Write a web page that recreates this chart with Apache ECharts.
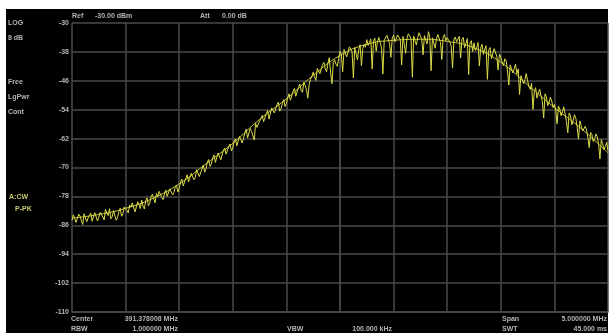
<!DOCTYPE html>
<html>
<head>
<meta charset="utf-8">
<script src="https://cdn.jsdelivr.net/npm/echarts@6/dist/echarts.min.js"></script>
<style>
html,body{margin:0;padding:0;background:#fff;}
#c{width:609px;height:333px;}
</style>
</head>
<body>
<div id="c"></div>
<script>
// Frequency span (offset from center, MHz)
const centerMHz = 391.378008;
const spanMHz = 5.0;
const refLevel = -30;   // dBm, top of screen
const dbPerDiv = 8;
const yTickLabels = [-110, -102, -94, -86, -78, -70, -62, -54, -46, -38, -30];

// Noisy measured trace (dBm), 401 sweep points across the span
const traceDb = [
  -84.6,-83.1, -83.2,-85.2, -84.9,-82.9, -83.5,-84.7, -85.8,-82.8, -83.1,-85.0, -84.0,-83.3, -82.6,-84.9, -84.4,-82.5, -83.0,-84.8,
  -83.8,-82.4, -82.1,-83.7, -84.5,-81.6, -82.7,-83.3, -81.4,-84.2, -83.6,-81.9, -82.0,-84.6, -83.9,-82.2, -81.3,-83.5, -82.8,-80.9,
  -80.5,-81.9, -82.6,-80.4, -81.0,-79.8, -79.6,-82.3, -81.8,-79.5, -80.2,-81.4, -79.0,-80.7, -81.5,-79.2, -78.4,-80.6, -79.9,-78.1,
  -77.4,-78.7, -79.8,-77.2, -78.0,-76.6, -76.5,-78.3, -78.9,-77.3, -76.2,-78.0, -77.8,-75.9, -75.4,-77.6, -77.0,-75.5, -74.9,-76.8,
  -75.8,-74.0, -73.2,-75.1, -74.6,-72.9, -72.0,-74.0, -73.9,-71.6, -71.5,-73.4, -72.8,-70.6, -70.2,-72.5, -72.0,-70.4, -69.3,-71.3,
  -70.4,-68.5, -67.8,-69.7, -69.1,-67.3, -66.5,-68.6, -68.2,-66.0, -65.9,-67.9, -67.4,-65.2, -64.6,-66.3, -66.0,-64.1, -63.5,-65.4,
  -64.5,-62.7, -62.1,-64.0, -63.8,-61.4, -61.0,-63.2, -62.9,-60.5, -59.4,-61.8, -61.6,-59.2, -60.0,-61.3, -62.4,-57.8, -58.9,-58.0,
  -57.9,-56.4, -55.6,-57.3, -57.0,-55.1, -54.2,-56.6, -56.1,-53.5, -53.0,-54.9, -55.3,-52.6, -51.9,-54.4, -53.8,-52.3, -51.2,-53.1,
  -52.3,-50.6, -49.6,-51.4, -51.0,-48.9, -48.1,-50.3, -50.4,-47.8, -46.9,-48.6, -49.2,-46.4, -47.3,-48.5, -50.8,-46.9, -45.6,-44.8,
  -43.6,-44.9, -45.9,-42.6, -42.8,-44.0, -44.2,-41.5, -40.9,-42.7, -43.5,-41.1, -39.6,-43.8, -46.8,-40.9, -40.2,-41.4, -42.0,-39.8,
  -37.8,-38.6, -43.5,-37.3, -37.0,-39.4, -38.9,-36.6, -36.2,-37.9, -45.2,-36.8, -36.5,-40.2, -37.4,-36.0, -41.8,-37.1, -35.9,-36.7,
  -34.6,-36.2, -35.8,-34.4, -42.7,-35.0, -34.2,-37.8, -35.1,-34.0, -33.8,-36.9, -44.1,-34.8, -34.5,-33.4, -33.6,-35.7, -39.5,-34.1,
  -33.4,-35.2, -34.9,-33.3, -32.8,-34.6, -41.6,-33.7, -33.5,-38.4, -34.2,-33.0, -32.6,-34.3, -45.0,-33.6, -33.1,-36.1, -34.0,-32.7,
  -32.9,-34.5, -38.8,-33.5, -33.7,-35.8, -32.4,-33.9, -43.2,-34.1, -33.6,-37.0, -34.4,-33.2, -32.7,-35.4, -40.1,-33.8, -33.2,-34.9,
  -34.1,-33.6, -35.3,-36.4, -42.5,-34.5, -33.9,-35.2, -34.8,-33.7, -39.7,-34.6, -34.0,-36.8, -35.6,-34.3, -44.3,-35.5, -34.9,-37.9,
  -35.5,-37.6, -36.8,-35.4, -41.9,-36.9, -35.9,-38.7, -37.2,-36.3, -45.6,-37.5, -36.8,-39.9, -38.5,-37.1, -37.4,-39.2, -43.0,-38.6,
  -39.6,-40.8, -41.8,-39.9, -40.5,-43.3, -47.2,-41.6, -41.9,-43.8, -42.6,-41.4, -44.1,-42.7, -49.8,-44.6, -44.3,-46.8, -45.7,-44.0,
  -46.0,-47.6, -48.4,-46.7, -53.9,-49.0, -47.9,-50.8, -49.5,-48.3, -50.1,-51.7, -56.3,-49.6, -50.4,-52.9, -52.0,-50.6, -51.6,-53.4,
  -52.5,-54.1, -57.9,-53.0, -53.8,-55.7, -54.6,-53.2, -55.2,-57.3, -60.4,-54.9, -55.6,-58.2, -57.0,-55.4, -56.4,-58.8, -62.1,-57.1,
  -58.4,-59.9, -60.0,-58.6, -59.6,-61.7, -64.5,-60.3, -60.9,-62.8, -62.0,-60.7, -61.5,-63.6, -67.6,-62.3, -63.4,-65.1, -64.2,-63.0,
  -65.4
];

// Smooth reference trace (dBm), 21 points across the span
const smoothDb = [
  -84.0, -83.0, -81.3, -78.6, -74.5, -69.0, -63.3, -56.7, -51.0, -44.5,
  -39.0, -35.9, -34.8, -34.5, -35.1, -36.9, -40.9, -47.1, -53.4, -59.2, -66.0
];

const leftTexts = ['LOG', '8 dB', 'Free', 'LgPwr', 'Cont'];
const markerTexts = ['A:CW', 'P-PK'];
const headerTexts = ['Ref', '-30.00 dBm', 'Att', '0.00 dB'];
const footerTexts = ['Center', '391.378008 MHz', 'RBW', '1.000000 MHz', 'VBW', '100.000 kHz', 'Span', '5.000000 MHz', 'SWT', '45.000 ms'];

const bottomLevel = refLevel - dbPerDiv * 10;
const half = spanMHz / 2;
function toPts(arr) {
  const step = spanMHz / (arr.length - 1);
  return arr.map((v, i) => [-half + i * step, v - bottomLevel]);
}

const FONT = '"Liberation Sans", Arial, sans-serif';
const txtCol = '#b4b4b4';
function t(x, y, s, align, color) {
  return { type: 'text', x: x, y: y, z: 10,
    style: { text: s, fill: color || txtCol, font: 'bold 7px ' + FONT, align: align || 'left', verticalAlign: 'middle' } };
}

const gridCol = '#4a4a4a';
const chart = echarts.init(document.getElementById('c'), null, { renderer: 'canvas' });
chart.setOption({
  backgroundColor: 'transparent',
  animation: false,
  graphic: [
    { type: 'rect', shape: { x: 6, y: 9, width: 602, height: 324 }, style: { fill: '#000' }, z: -10 },
    t(8, 23, leftTexts[0]), t(8, 38, leftTexts[1]),
    t(8, 82, leftTexts[2]), t(8, 97, leftTexts[3]), t(8, 112, leftTexts[4]),
    t(9, 197, markerTexts[0], 'left', '#c8c86e'), t(15, 209, markerTexts[1], 'left', '#c8c86e'),
    t(72, 16, headerTexts[0]), t(95, 16, headerTexts[1]),
    t(200, 16, headerTexts[2]), t(222, 16, headerTexts[3]),
    t(71, 319, footerTexts[0]), t(178, 319, footerTexts[1], 'right'),
    t(71, 329, footerTexts[2]), t(178, 329, footerTexts[3], 'right'),
    t(287, 329, footerTexts[4]), t(392, 329, footerTexts[5], 'right'),
    t(502, 319, footerTexts[6]), t(607, 319, footerTexts[7], 'right'),
    t(502, 329, footerTexts[8]), t(607, 329, footerTexts[9], 'right')
  ],
  grid: { left: 72, top: 23, right: 1, bottom: 21, containLabel: false },
  xAxis: {
    type: 'value', min: -half, max: half, interval: 0.5,
    axisLine: { show: true, lineStyle: { color: gridCol, width: 1.5 } },
    axisTick: { show: false }, axisLabel: { show: false },
    splitLine: { show: true, lineStyle: { color: gridCol, width: 1.5 } }
  },
  yAxis: {
    type: 'value', min: 0, max: dbPerDiv * 10, interval: dbPerDiv,
    axisLine: { show: true, lineStyle: { color: gridCol, width: 1.5 } },
    axisTick: { show: false },
    axisLabel: { show: true, margin: 3, color: txtCol, fontSize: 7, fontWeight: 'bold', fontFamily: FONT,
      formatter: v => String(yTickLabels[Math.round(v / dbPerDiv)]) },
    splitLine: { show: true, lineStyle: { color: gridCol, width: 1.5 } }
  },
  series: [
    { type: 'line', data: toPts(smoothDb), smooth: true, showSymbol: false,
      lineStyle: { color: '#c9c93a', width: 1 }, z: 2 },
    { type: 'line', data: toPts(traceDb), showSymbol: false,
      lineStyle: { color: '#dcdc48', width: 1 }, z: 3 }
  ]
});
</script>
</body>
</html>
